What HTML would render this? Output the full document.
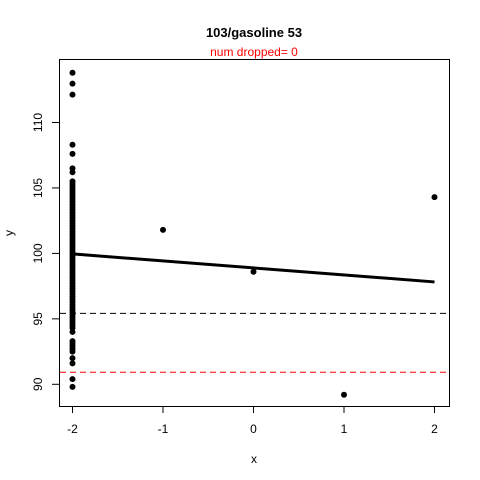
<!DOCTYPE html>
<html><head><meta charset="utf-8"><style>
body{margin:0;background:#fff}
svg{display:block;font-family:"Liberation Sans",Arial,sans-serif}
</style></head><body>
<svg id="chart" width="480" height="480" viewBox="0 0 480 480">
<rect width="480" height="480" fill="#fff"/>
<text x="254" y="37" text-anchor="middle" font-size="13" font-weight="bold">103/gasoline 53</text>
<text x="254" y="56" text-anchor="middle" font-size="12" fill="red">num dropped= 0</text>
<rect x="59.5" y="59.5" width="390" height="347" fill="none" stroke="#000"/>
<g id="xaxis"></g>
<g id="yaxis"></g>
<text x="254" y="463" text-anchor="middle" font-size="12">x</text>
<text transform="translate(13,233) rotate(-90)" text-anchor="middle" font-size="12">y</text>
<g id="marks"></g>
</svg>
<script>
const xTicks=[-2,-1,0,1,2];
const yTicks=[90,95,100,105,110];
const hLines=[95.42,90.92];
const hLineColors=["#000","red"];
const fitStart=[-2,99.96];
const fitEnd=[2,97.82];
const xsOther=[-1,0,1,2];
const ysOther=[101.8,98.6,89.2,104.3];
const ysLeft=[113.8,112.97,112.13,108.3,107.6,106.5,106.2,105.5,
105.3,105.1,104.9,104.7,104.5,104.3,104.1,103.9,103.7,103.5,103.3,103.1,102.9,102.7,102.5,102.3,102.1,101.9,101.7,101.5,101.3,101.1,100.9,100.7,100.5,100.3,100.1,99.9,99.7,99.5,99.3,99.1,98.9,98.7,98.5,98.3,98.1,97.9,97.7,97.5,97.3,97.1,96.9,96.7,96.5,96.3,96.1,95.9,95.7,95.5,95.3,95.1,94.9,94.7,94.5,94.3,94.0,93.3,93.1,92.9,92.7,92.5,92.0,91.6,90.4,89.8];
const NS="http://www.w3.org/2000/svg";
const X=v=>253.5+v*90.5;
const Y=v=>384.3-(v-90)*13.09;
function mk(t,a,p){const e=document.createElementNS(NS,t);for(const k in a)e.setAttribute(k,a[k]);p.appendChild(e);return e;}
const xa=document.getElementById('xaxis'),ya=document.getElementById('yaxis'),m=document.getElementById('marks');
xTicks.forEach(t=>{
 const l=mk('line',{x1:X(t),x2:X(t),y1:406.5,y2:413,stroke:'#000'},xa);
 
 
 const tx=mk('text',{x:X(t),y:433,'text-anchor':'middle','font-size':12},xa);
 tx.textContent=t;
 
 
});
yTicks.forEach(t=>{
 const l=mk('line',{x1:52,x2:59.5,y1:Y(t),y2:Y(t),stroke:'#000'},ya);
 
 
 const tx=mk('text',{x:0,y:0,'text-anchor':'middle','font-size':12,transform:`translate(42,${Y(t)}) rotate(-90)`},ya);
 tx.textContent=t;
 
 
});
hLines.forEach((v,i)=>{
 const l=mk('line',{x1:60,x2:449,y1:Y(v),y2:Y(v),stroke:hLineColors[i],'stroke-dasharray':'6,4'},m);
 
 
});
ysLeft.forEach(v=>{
 const c=mk('circle',{cx:X(-2),cy:Y(v),r:3,fill:'#000'},m);
 
 
});
xsOther.forEach((x,i)=>{
 const c=mk('circle',{cx:X(x),cy:Y(ysOther[i]),r:3,fill:'#000'},m);
 
 
});
const f=mk('line',{x1:X(fitStart[0]),y1:Y(fitStart[1]),x2:X(fitEnd[0]),y2:Y(fitEnd[1]),stroke:'#000','stroke-width':3},m);


</script>
</body></html>
